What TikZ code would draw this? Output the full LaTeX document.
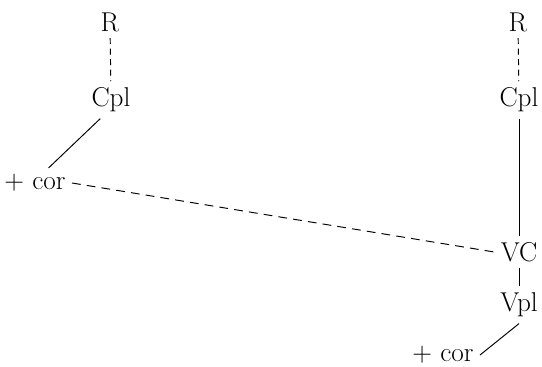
\documentclass[tikz,border=0pt]{standalone}
\usepackage{tikz}

\tikzset{
  lbl/.style={font=\fontsize{15.5}{18}\selectfont, inner sep=3.5pt},
  link/.style={line width=0.55pt},
  dlink/.style={line width=0.55pt, dash pattern=on 3.4pt off 2.6pt},
  longdash/.style={line width=0.55pt, dash pattern=on 5pt off 3.5pt}
}

\begin{document}
\begin{tikzpicture}[x=0.02cm, y=-0.02cm]
  \useasboundingbox (0,0) rectangle (542,366);

  % --- sinistra ---
  \node[lbl] (rL)   at (110, 22)  {R};
  \node[lbl] (cplL) at (111, 100) {Cpl};
  \node[lbl] (corL) at (35, 183)  {+ cor};

  % --- destra ---
  \node[lbl] (rR)   at (518, 22)  {R};
  \node[lbl] (cplR) at (519, 100) {Cpl};
  \node[lbl] (vc)   at (519, 252) {VC};
  \node[lbl] (vpl)  at (519, 305) {Vpl};
  \node[lbl] (corR) at (443, 355) {+ cor};

  % --- linee ---
  \draw[dlink] (rL) -- (cplL);
  \draw[link] (cplL.-120) -- (corL.48);
  \draw[longdash] (corL.east) -- (vc.west);

  \draw[dlink] (rR) -- (cplR);
  \draw[link] (cplR) -- (vc);
  \draw[link] (vc) -- (vpl);
  \draw[link] (vpl.south) -- (corR.east);

\end{tikzpicture}
\end{document}
